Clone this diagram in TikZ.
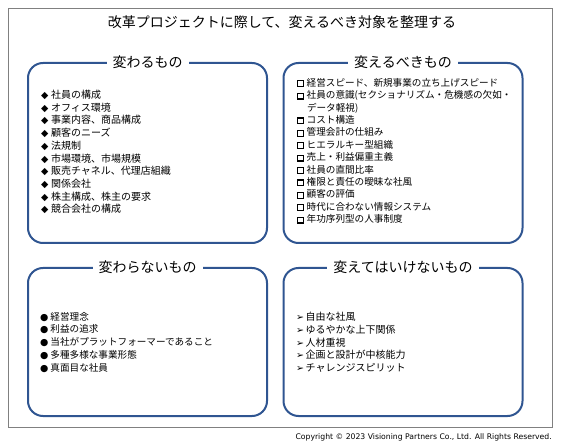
\documentclass[tikz,border=0pt]{standalone}
\usepackage{fontspec}
\setmainfont{Noto Sans CJK JP}
\newfontfamily\dejavu{DejaVu Sans}
\usepackage{xcolor}
\usetikzlibrary{positioning}

\definecolor{panelblue}{RGB}{47,85,145}
\definecolor{framegray}{RGB}{128,128,128}

% markers in front of the list items
\newcommand{\dmark}{{\dejavu\fontsize{9.5}{9.5}\selectfont ◆}\hspace{2.5pt}}
\newcommand{\cmark}{{\dejavu\fontsize{9.5}{9.5}\selectfont ●}\hspace{2pt}}
\newcommand{\amark}{{\dejavu\fontsize{9.5}{9.5}\selectfont ➢}\hspace{1.5pt}}
\newcommand{\qmark}{{\setlength{\fboxrule}{1.2pt}\setlength{\fboxsep}{0pt}\raisebox{0.3pt}{\fbox{\rule{0pt}{4.6pt}\hspace{4.6pt}}}}\hspace{2.5pt}}

\begin{document}
\begin{tikzpicture}[x=1pt, y=-1pt,
            panel/.style={draw=panelblue, line width=2pt, rectangle, rounded corners=15pt, minimum width=239pt},
            heading/.style={fill=white, inner xsep=6pt, inner ysep=1pt, font=\fontsize{14}{16}\selectfont},
            itemlist/.style={anchor=north west, inner sep=0pt, align=left}]
            \useasboundingbox (0,0) rectangle (565,446);

            % Frame and title
            \node (frame) [draw=framegray, line width=0.8pt, minimum width=544pt, minimum height=419pt, inner sep=0pt] at (280,217.5) {};
            \node (title) [font=\fontsize{14}{16}\selectfont] at (282,22) {改革プロジェクトに際して、変えるべき対象を整理する};

            % Panels
            \node (chg) [panel, minimum height=180pt] at (147.5,153) {};
            \node (tochg) [panel, minimum height=180pt] at (403,153) {};
            \node (keep) [panel, minimum height=148pt] at (147.5,342) {};
            \node (tokeep) [panel, minimum height=148pt] at (403,342) {};

            % Headings
            \node (chghead) [heading] at (chg.north) {変わるもの};
            \node (tochghead) [heading] at (tochg.north) {変えるべきもの};
            \node (keephead) [heading] at (keep.north) {変わらないもの};
            \node (tokeephead) [heading] at (tokeep.north) {変えてはいけないもの};

            % Lists
            \node (chglist) [itemlist, font=\fontsize{10}{12.7}\selectfont] at (41,90) {\dmark 社員の構成\\ \dmark オフィス環境\\ \dmark 事業内容、商品構成\\ \dmark 顧客のニーズ\\ \dmark 法規制\\ \dmark 市場環境、市場規模\\ \dmark 販売チャネル、代理店組織\\ \dmark 関係会社\\ \dmark 株主構成、株主の要求\\ \dmark 競合会社の構成};
            \node (tochglist) [itemlist, font=\fontsize{9.6}{12.4}\selectfont] at (297,78) {\qmark 経営スピード、新規事業の立ち上げスピード\\ \qmark 社員の意識(セクショナリズム・危機感の欠如・\\ \hspace*{9.8pt}データ軽視)\\ \qmark コスト構造\\ \qmark 管理会計の仕組み\\ \qmark ヒエラルキー型組織\\ \qmark 売上・利益偏重主義\\ \qmark 社員の直間比率\\ \qmark 権限と責任の曖昧な社風\\ \qmark 顧客の評価\\ \qmark 時代に合わない情報システム\\ \qmark 年功序列型の人事制度};
            \node (keeplist) [itemlist, font=\fontsize{9.6}{12.7}\selectfont] at (40,312) {\cmark 経営理念\\ \cmark 利益の追求\\ \cmark 当社がプラットフォーマーであること\\ \cmark 多種多様な事業形態\\ \cmark 真面目な社員};
            \node (tokeeplist) [itemlist, font=\fontsize{10}{12.7}\selectfont] at (296,312) {\amark 自由な社風\\ \amark ゆるやかな上下関係\\ \amark 人材重視\\ \amark 企画と設計が中核能力\\ \amark チャレンジスピリット};

            % Copyright
            \node (copy) [anchor=east, inner sep=0pt, font=\dejavu\fontsize{7.7}{9}\selectfont] at (552,437) {Copyright © 2023 Visioning Partners Co., Ltd. All Rights Reserved.};
        \end{tikzpicture}
\end{document}
